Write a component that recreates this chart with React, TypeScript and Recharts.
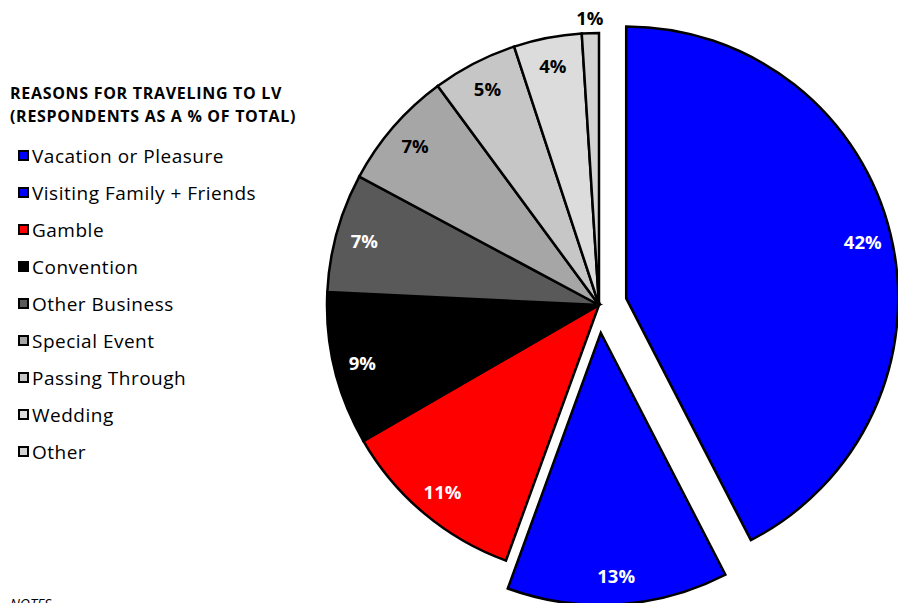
import React from 'react';
import { PieChart, Pie, Cell, Legend } from 'recharts';

const categories = [
  'Vacation or Pleasure',
  'Visiting Family + Friends',
  'Gamble',
  'Convention',
  'Other Business',
  'Special Event',
  'Passing Through',
  'Wedding',
  'Other',
];
const shares = [42, 13, 11, 9, 7, 7, 5, 4, 1];
const colors = ['#0000ff', '#0000ff', '#ff0000', '#000000', '#595959', '#a6a6a6', '#c6c6c6', '#dcdcdc', '#d3d3d3'];
const labelColors = ['#fff', '#fff', '#fff', '#fff', '#fff', '#000', '#000', '#000', '#000'];
const exploded = [0, 1];
const outsideLabels = [8];
const titleLines = ['REASONS FOR TRAVELING TO LV', '(RESPONDENTS AS A % OF TOTAL)'];
const notesText = 'NOTES';

const data = categories.map((name, i) => ({ name, value: shares[i] }));

const W = 898;
const H = 603;
const CX = 599;
const CY = 305;
const R = 272;
const EXPLODE = 28;
const FONT = '"Open Sans", "Noto Sans", sans-serif';
const RAD = Math.PI / 180;

const total = shares.reduce((a, b) => a + b, 0);
const midAngleOf = (i: number) => {
  const cum = shares.slice(0, i).reduce((a, b) => a + b, 0);
  return 90 - (360 * (cum + shares[i] / 2)) / total;
};

const makeLabel = (visible: (i: number) => boolean) => (props: any) => {
  const { index, cx, cy, midAngle, outerRadius, value } = props;
  if (!visible(index)) return null;
  const r = outsideLabels.includes(index) ? outerRadius + 16 : outerRadius * 0.895;
  const x = cx + r * Math.cos(-midAngle * RAD);
  const y = cy + r * Math.sin(-midAngle * RAD);
  return (
    <text
      x={x}
      y={y}
      fill={labelColors[index]}
      textAnchor="middle"
      dominantBaseline="central"
      style={{ fontFamily: FONT, fontWeight: 700, fontSize: 18.5 }}
    >
      {`${value}%`}
    </text>
  );
};

const LegendContent = () => (
  <div style={{ fontFamily: FONT, color: '#000' }}>
    <div style={{ fontWeight: 700, fontSize: 16, letterSpacing: 0.7, lineHeight: '23px', marginLeft: 2 }}>
      {titleLines.map((t) => (
        <div key={t}>{t}</div>
      ))}
    </div>
    <div style={{ marginTop: 9 }}>
      {categories.map((c, i) => (
        <div key={c} style={{ display: 'flex', alignItems: 'center', height: 37, fontSize: 19, letterSpacing: 0.5 }}>
          <span
            style={{
              display: 'inline-block',
              width: 7,
              height: 7,
              border: '2px solid #000',
              background: colors[i],
              marginLeft: 10,
              marginRight: 3,
            }}
          />
          <span>{c}</span>
        </div>
      ))}
    </div>
  </div>
);

export default function App() {
  return (
    <div style={{ position: 'absolute', left: 0, top: 0, width: W, height: H, overflow: 'hidden', background: '#fff' }}>
      <PieChart width={W} height={H} margin={{ top: 0, right: 0, bottom: 0, left: 0 }}>
        <Pie
          data={data}
          dataKey="value"
          nameKey="name"
          cx={CX}
          cy={CY}
          outerRadius={R}
          startAngle={90}
          endAngle={-270}
          isAnimationActive={false}
          labelLine={false}
          label={makeLabel((i) => !exploded.includes(i))}
        >
          {data.map((d, i) => (
            <Cell
              key={d.name}
              fill={exploded.includes(i) ? 'none' : colors[i]}
              stroke={exploded.includes(i) ? 'none' : '#000'}
              strokeWidth={2.5}
            />
          ))}
        </Pie>
        {exploded.map((ei) => {
          const m = midAngleOf(ei);
          return (
            <Pie
              key={`exp-${ei}`}
              data={data}
              dataKey="value"
              nameKey="name"
              cx={CX + EXPLODE * Math.cos(m * RAD)}
              cy={CY - EXPLODE * Math.sin(m * RAD)}
              outerRadius={R}
              startAngle={90}
              endAngle={-270}
              isAnimationActive={false}
              labelLine={false}
              label={makeLabel((i) => i === ei)}
            >
              {data.map((d, i) => (
                <Cell
                  key={d.name}
                  fill={i === ei ? colors[i] : 'none'}
                  stroke={i === ei ? '#000' : 'none'}
                  strokeWidth={2.5}
                />
              ))}
            </Pie>
          );
        })}
        <Legend
          content={LegendContent}
          wrapperStyle={{ position: 'absolute', left: 8, top: 82, width: 330 }}
        />
      </PieChart>
      <div
        style={{
          position: 'absolute',
          left: 10,
          top: 594,
          fontFamily: FONT,
          fontStyle: 'italic',
          fontSize: 14,
          color: '#000',
        }}
      >
        {notesText}
      </div>
    </div>
  );
}
